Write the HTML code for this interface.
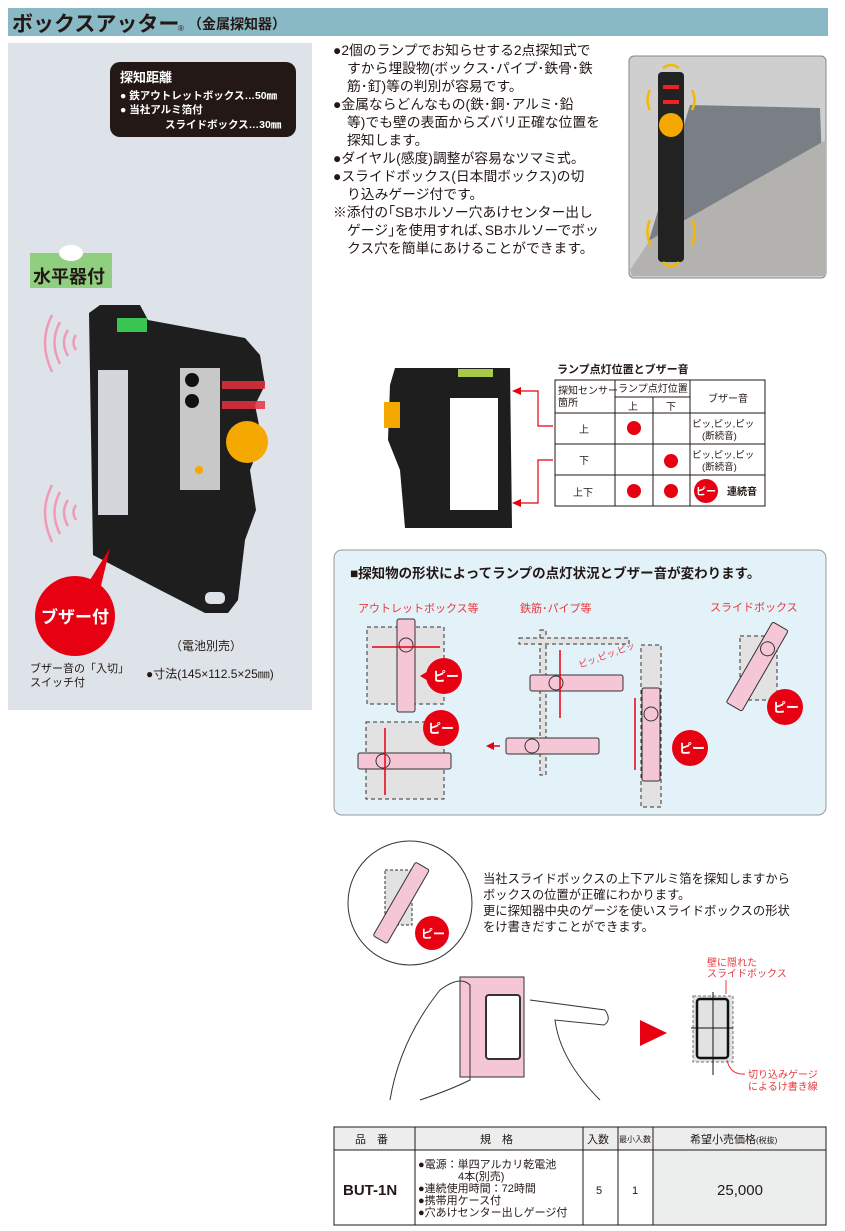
<!DOCTYPE html>
<html><head><meta charset="utf-8"><style>
html,body{margin:0;padding:0;background:#fff;}
svg{display:block;font-family:"Liberation Sans","Noto Sans CJK JP",sans-serif;}
</style></head><body>
<svg width="845" height="1231" viewBox="0 0 845 1231" xmlns="http://www.w3.org/2000/svg">
<!-- header -->
<rect x="8" y="8" width="820" height="28" fill="#8ab9c6"/>
<text x="12" y="31" font-size="21" font-weight="bold" fill="#231815">ボックスアッター</text>
<text x="178" y="31" font-size="8" fill="#231815">®</text>
<text x="188" y="29" font-size="14" font-weight="bold" fill="#231815">（金属探知器）</text>

<!-- left panel -->
<rect x="8" y="43" width="304" height="667" fill="#dde3e8"/>
<rect x="110" y="62" width="186" height="75" rx="10" fill="#231815"/>
<text x="120" y="82" font-size="13" font-weight="bold" fill="#fff">探知距離</text>
<text x="120" y="99" font-size="10.5" font-weight="bold" fill="#fff">● 鉄アウトレットボックス…50㎜</text>
<text x="120" y="113" font-size="10.5" font-weight="bold" fill="#fff">● 当社アルミ箔付</text>
<text x="165" y="128" font-size="10.5" font-weight="bold" fill="#fff">スライドボックス…30㎜</text>
<rect x="30" y="253" width="82" height="35" fill="#8fcf7f"/>
<ellipse cx="71" cy="253" rx="12" ry="8" fill="#fff"/>
<text x="33" y="283" font-size="18" font-weight="bold" fill="#231815">水平器付</text>

<!-- sound waves -->
<g fill="none" stroke="#f09ab8" stroke-width="2.5">
<path d="M52 315 Q38 342 52 372"/><path d="M60 322 Q49 342 60 364"/><path d="M68 330 Q60 342 68 356"/><path d="M76 335 Q71 342 76 350"/>
<path d="M52 485 Q38 512 52 542"/><path d="M60 492 Q49 512 60 534"/><path d="M68 500 Q60 512 68 526"/><path d="M76 505 Q71 512 76 520"/>
</g>
<!-- main device -->
<path d="M89 313 L100 305 L140 305 L148 320 L245 338 L260 355 L265 385 L255 405 L262 440 L250 470 L256 510 L245 540 L238 600 L228 613 L205 613 L160 590 L93 555 Z" fill="#1e1e1e"/>
<rect x="98" y="370" width="30" height="145" fill="#d2d6da"/>
<rect x="117" y="318" width="30" height="14" fill="#39c552"/>
<rect x="180" y="368" width="40" height="122" fill="#c8c8c8"/>
<rect x="222" y="381" width="43" height="8" fill="#e83040" opacity="0.85"/>
<rect x="222" y="401" width="43" height="8" fill="#e83040" opacity="0.85"/>
<ellipse cx="247" cy="442" rx="21" ry="21" fill="#f5a800"/>
<circle cx="192" cy="380" r="7" fill="#111"/><circle cx="192" cy="401" r="7" fill="#111"/>
<circle cx="199" cy="470" r="4" fill="#f5a800"/>
<rect x="205" y="592" width="20" height="12" rx="5" fill="#dde3e8"/>

<!-- buzzer bubble -->
<path d="M90 580 L110 548 L100 590 Z" fill="#e60012"/>
<circle cx="75" cy="616" r="40" fill="#e60012"/>
<text x="75" y="623" font-size="17" font-weight="bold" fill="#fff" text-anchor="middle">ブザー付</text>
<text x="170" y="650" font-size="12" fill="#231815">（電池別売）</text>
<text x="30" y="672" font-size="11" fill="#231815">ブザー音の「入切」</text>
<text x="30" y="686" font-size="11" fill="#231815">スイッチ付</text>
<text x="146" y="678" font-size="12" fill="#231815">●寸法(145×112.5×25㎜)</text>

<!-- bullets -->
<g font-size="13.8" fill="#231815">
<text x="333" y="55">●2個のランプでお知らせする2点探知式で</text>
<text x="347" y="73">すから埋設物(ボックス･パイプ･鉄骨･鉄</text>
<text x="347" y="91">筋･釘)等の判別が容易です。</text>
<text x="333" y="109">●金属ならどんなもの(鉄･銅･アルミ･鉛</text>
<text x="347" y="127">等)でも壁の表面からズバリ正確な位置を</text>
<text x="347" y="145">探知します。</text>
<text x="333" y="163">●ダイヤル(感度)調整が容易なツマミ式。</text>
<text x="333" y="181">●スライドボックス(日本間ボックス)の切</text>
<text x="347" y="199">り込みゲージ付です。</text>
<text x="333" y="217">※添付の｢SBホルソー穴あけセンター出し</text>
<text x="347" y="235">ゲージ｣を使用すれば､SBホルソーでボッ</text>
<text x="347" y="253">クス穴を簡単にあけることができます。</text>
</g>

<!-- photo -->
<rect x="629" y="56" width="197" height="222" rx="5" fill="#cfcfcf" stroke="#888"/>
<path d="M690 105 L820 108 L826 270 L640 270 Z" fill="#7a7f86"/>
<path d="M630 270 L650 240 L720 200 L826 140 L826 276 L632 276 Z" fill="#b3b2ae"/>
<rect x="658" y="72" width="26" height="190" rx="4" fill="#222"/>
<circle cx="671" cy="125" r="12" fill="#f5a800"/>
<rect x="663" y="85" width="16" height="4" fill="#e22"/><rect x="663" y="100" width="16" height="4" fill="#e22"/>
<g fill="none" stroke="#f5b800" stroke-width="2.5">
<path d="M663 68 Q671 62 679 68"/><path d="M650 90 Q645 100 650 110"/><path d="M692 90 Q697 100 692 110"/>
<path d="M650 220 Q645 230 650 245"/><path d="M692 220 Q697 230 692 245"/><path d="M663 262 Q671 270 679 262"/>
</g>

<!-- middle device -->
<path d="M395 368 L510 368 L512 528 L405 528 L400 470 L388 440 L390 385 Z" fill="#1e1e1e"/>
<rect x="450" y="398" width="48" height="112" fill="#fff"/>
<rect x="458" y="369" width="35" height="8" fill="#a9c94a"/>
<rect x="384" y="402" width="16" height="26" fill="#f5a800"/>
<g stroke="#e60012" fill="none" stroke-width="1.2">
<path d="M553 426 L538 426 L538 391 L520 391"/><path d="M553 460 L538 460 L538 503 L520 503"/>
</g>
<path d="M512 391 L521 387 L521 395 Z" fill="#e60012"/><path d="M512 503 L521 499 L521 507 Z" fill="#e60012"/>

<!-- lamp table -->
<text x="557" y="373" font-size="11" font-weight="bold" fill="#231815">ランプ点灯位置とブザー音</text>
<g stroke="#231815" stroke-width="1" fill="none">
<rect x="555" y="380" width="210" height="126"/>
<line x1="615" y1="380" x2="615" y2="506"/><line x1="690" y1="380" x2="690" y2="506"/>
<line x1="653" y1="397" x2="653" y2="506"/><line x1="615" y1="397" x2="690" y2="397"/>
<line x1="555" y1="413" x2="765" y2="413"/><line x1="555" y1="444" x2="765" y2="444"/><line x1="555" y1="475" x2="765" y2="475"/>
</g>
<g font-size="10" fill="#231815">
<text x="558" y="394">探知センサー</text><text x="558" y="406">箇所</text>
<text x="618" y="392">ランプ点灯位置</text>
<text x="628" y="410">上</text><text x="666" y="410">下</text>
<text x="708" y="402">ブザー音</text>
<text x="579" y="433">上</text><text x="579" y="464">下</text><text x="573" y="496">上下</text>
<text x="692" y="427" font-size="9.5">ピッ,ピッ,ピッ</text><text x="702" y="439" font-size="9.5">(断続音)</text>
<text x="692" y="458" font-size="9.5">ピッ,ピッ,ピッ</text><text x="702" y="470" font-size="9.5">(断続音)</text>
<text x="727" y="495" font-weight="bold">連続音</text>
</g>
<g fill="#e60012"><circle cx="634" cy="428" r="7"/><circle cx="671" cy="461" r="7"/><circle cx="634" cy="491" r="7"/><circle cx="671" cy="491" r="7"/><circle cx="706" cy="491" r="12"/></g>
<text x="706" y="495" font-size="10" font-weight="bold" fill="#fff" text-anchor="middle">ピー</text>

<!-- blue panel -->
<rect x="334" y="550" width="492" height="265" rx="8" fill="#e3f1f9" stroke="#999"/>
<text x="350" y="578" font-size="13.5" font-weight="bold" fill="#231815">■探知物の形状によってランプの点灯状況とブザー音が変わります。</text>
<g font-size="11" fill="#e8383d">
<text x="358" y="612">アウトレットボックス等</text><text x="520" y="612">鉄筋･パイプ等</text><text x="710" y="611">スライドボックス</text>
</g>
<g fill="#e2e2e2" stroke="#333" stroke-dasharray="4,3">
<rect x="367" y="627" width="77" height="77"/><rect x="366" y="722" width="78" height="77"/>
<rect x="641" y="645" width="20" height="162"/><rect x="740" y="636" width="37" height="64"/>
<rect x="540" y="630" width="6" height="145"/><rect x="519" y="638" width="110" height="6"/>
</g>
<g fill="#f5c6d6" stroke="#333" stroke-width="1">
<rect x="397" y="619" width="18" height="93" rx="2"/><circle cx="406" cy="645" r="7" fill="none"/>
<rect x="358" y="753" width="93" height="16" rx="2"/><circle cx="383" cy="761" r="7" fill="none"/>
<rect x="530" y="675" width="93" height="16" rx="2"/><circle cx="556" cy="683" r="7" fill="none"/>
<rect x="506" y="738" width="93" height="16" rx="2"/><circle cx="532" cy="746" r="7" fill="none"/>
<rect x="642" y="688" width="18" height="93" rx="2"/><circle cx="651" cy="714" r="7" fill="none"/>
<g transform="rotate(30 757 667)"><rect x="748" y="620" width="18" height="93" rx="2"/><circle cx="757" cy="646" r="7" fill="none"/></g>
</g>
<g stroke="#e60012" stroke-width="1.5" fill="#e60012">
<line x1="372" y1="647" x2="440" y2="647"/><line x1="385" y1="728" x2="385" y2="795"/>
<line x1="560" y1="650" x2="560" y2="718"/><line x1="635" y1="698" x2="635" y2="770"/><line x1="490" y1="746" x2="500" y2="746"/>
</g>
<g fill="#e60012">
<circle cx="444" cy="676" r="18"/><circle cx="441" cy="728" r="18"/><circle cx="690" cy="748" r="18"/><circle cx="785" cy="707" r="18"/>
<path d="M420 676 L430 670 L430 682 Z"/><path d="M486 746 L494 742 L494 750 Z"/>
</g>
<g font-size="13" font-weight="bold" fill="#fff" text-anchor="middle">
<text x="446" y="681">ピー</text><text x="441" y="733">ピー</text><text x="692" y="753">ピー</text><text x="786" y="712">ピー</text>
</g>
<text x="580" y="668" font-size="9" fill="#e8383d" transform="rotate(-20 580 668)">ピッ,ピッ,ピッ</text>

<!-- bottom illustration -->
<circle cx="410" cy="903" r="62" fill="#fff" stroke="#333"/>
<rect x="385" y="870" width="27" height="55" fill="#e2e2e2" stroke="#333" stroke-dasharray="3,2"/>
<g transform="rotate(30 400 905)"><rect x="392" y="860" width="16" height="85" rx="2" fill="#f5c6d6" stroke="#333"/></g>
<circle cx="432" cy="933" r="17" fill="#e60012"/>
<text x="433" y="938" font-size="12" font-weight="bold" fill="#fff" text-anchor="middle">ピー</text>
<g font-size="12.3" fill="#231815">
<text x="483" y="883">当社スライドボックスの上下アルミ箔を探知しますから</text>
<text x="483" y="899">ボックスの位置が正確にわかります。</text>
<text x="483" y="915">更に探知器中央のゲージを使いスライドボックスの形状</text>
<text x="483" y="931">をけ書きだすことができます。</text>
</g>
<rect x="460" y="977" width="64" height="100" fill="#f5c6d6" stroke="#333"/>
<rect x="486" y="995" width="34" height="64" rx="3" fill="#fff" stroke="#333" stroke-width="2"/>
<g fill="none" stroke="#333" stroke-width="1">
<path d="M390 1100 Q400 1040 440 990 Q460 975 470 985 L470 1080 Q450 1090 420 1100"/>
<path d="M530 1000 L605 1010 Q612 1020 604 1025 L555 1020 Q560 1060 600 1100"/>
</g>
<path d="M640 1020 L667 1033 L640 1046 Z" fill="#e60012"/>
<rect x="693" y="996" width="40" height="66" fill="#e2e2e2" stroke="#777" stroke-dasharray="3,2"/>
<rect x="697" y="999" width="31" height="59" rx="3" fill="none" stroke="#111" stroke-width="2.5"/>
<line x1="713" y1="992" x2="713" y2="1075" stroke="#111"/><line x1="691" y1="1028" x2="733" y2="1028" stroke="#111"/>
<g font-size="10" fill="#e8383d">
<text x="707" y="966">壁に隠れた</text><text x="707" y="977">スライドボックス</text>
<text x="748" y="1078">切り込みゲージ</text><text x="748" y="1090">によるけ書き線</text>
</g>
<path d="M726 980 L726 994 M727 1060 Q730 1075 745 1074" stroke="#e8383d" fill="none"/>

<!-- spec table -->
<rect x="334" y="1127" width="492" height="23" fill="#eceeee"/>
<rect x="653" y="1150" width="173" height="75" fill="#eceeee"/>
<g stroke="#231815" fill="none" stroke-width="1">
<rect x="334" y="1127" width="492" height="98"/>
<line x1="334" y1="1150" x2="826" y2="1150"/>
<line x1="415" y1="1127" x2="415" y2="1225"/><line x1="583" y1="1127" x2="583" y2="1225"/>
<line x1="618" y1="1127" x2="618" y2="1225"/><line x1="653" y1="1127" x2="653" y2="1225"/>
</g>
<g font-size="11" fill="#231815">
<text x="355" y="1143">品　番</text><text x="480" y="1143">規　格</text><text x="587" y="1143">入数</text>
<text x="619" y="1142" font-size="8">最小入数</text><text x="690" y="1143">希望小売価格<tspan font-size="8">(税抜)</tspan></text>
<text x="418" y="1168">●電源：単四アルカリ乾電池</text><text x="458" y="1180">4本(別売)</text>
<text x="418" y="1192">●連続使用時間：72時間</text><text x="418" y="1204">●携帯用ケース付</text><text x="418" y="1216">●穴あけセンター出しゲージ付</text>
<text x="596" y="1194">5</text><text x="632" y="1194">1</text>
</g>
<text x="343" y="1195" font-size="15" font-weight="bold" fill="#231815">BUT-1N</text>
<text x="740" y="1195" font-size="15" fill="#231815" text-anchor="middle">25,000</text>
</svg>
</body></html>
